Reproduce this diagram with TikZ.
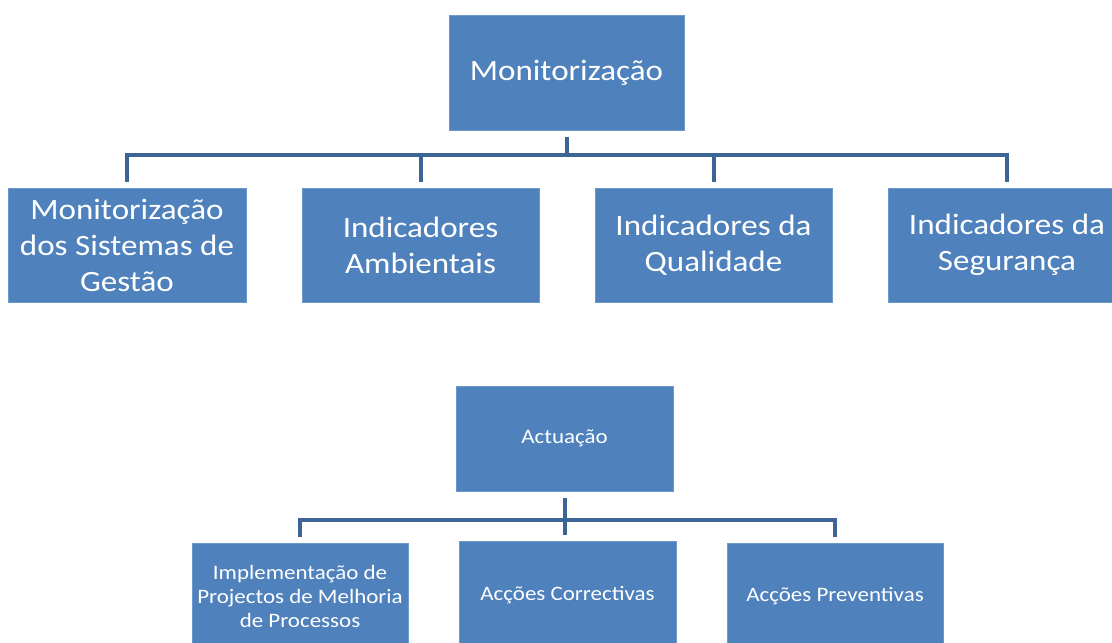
\documentclass[tikz,border=0pt]{standalone}
\usepackage{fontspec}
\setmainfont[FakeStretch=1.12]{Carlito}
\definecolor{boxblue}{HTML}{4F81BD}
\definecolor{boxedge}{HTML}{6E97CA}
\definecolor{linkblue}{HTML}{3C6595}
\tikzset{
  bigbox/.style={rectangle, fill=boxblue, draw=boxedge, line width=0.8pt, text=white, align=center,
    font=\fontsize{29.5}{36}\selectfont, inner sep=0pt},
  smallbox/.style={rectangle, fill=boxblue, draw=boxedge, line width=0.8pt, text=white, align=center,
    font=\fontsize{20.5}{24}\selectfont, inner sep=0pt},
  conn/.style={draw=linkblue, line width=4pt}
}
\begin{document}
\begin{tikzpicture}[x=1pt,y=1pt]
\clip (0,0) rectangle (1112,-643);
\useasboundingbox (0,0) rectangle (1112,-643);
\fill[white] (0,0) rectangle (1112,-643);
% top hierarchy
\node[bigbox, minimum width=235pt, minimum height=115pt] (m) at (566.5,-72.5) {Monitorização};
\node[bigbox, minimum width=238pt, minimum height=114pt] (b1) at (127,-245) {Monitorização\\dos Sistemas de\\Gestão};
\node[bigbox, minimum width=237pt, minimum height=114pt] (b2) at (420.5,-245) {Indicadores\\Ambientais};
\node[bigbox, minimum width=237pt, minimum height=114pt] (b3) at (713.5,-245) {Indicadores da\\Qualidade};
\node[bigbox, minimum width=238pt, minimum height=114pt] (b4) at (1007,-245) {Indicadores da\\Segurança};
\coordinate (bus1) at ([yshift=-25pt]m.south);
\draw[conn] ([yshift=-7pt]m.south) -- (bus1);
\draw[conn] ([yshift=6pt]b1.north) |- (bus1) -| ([yshift=6pt]b4.north);
\draw[conn] ([yshift=6pt]b2.north) -- (b2.north |- bus1);
\draw[conn] ([yshift=6pt]b3.north) -- (b3.north |- bus1);
% bottom hierarchy
\node[smallbox, minimum width=217pt, minimum height=105pt] (a) at (564.5,-438.5) {Actuação};
\node[smallbox, minimum width=216pt, minimum height=106pt] (c1) at (300,-596) {Implementação de\\Projectos de Melhoria\\de Processos};
\node[smallbox, minimum width=217pt, minimum height=108pt] (c2) at (567.5,-595) {Acções Correctivas};
\node[smallbox, minimum width=216pt, minimum height=106pt] (c3) at (835,-596) {Acções Preventivas};
\coordinate (bus2) at ([yshift=-29pt]a.south);
\draw[conn] ([yshift=-7pt]a.south) -- ([yshift=6pt]a.south |- c2.north);
\draw[conn] ([yshift=6pt]c1.north) |- (bus2) -| ([yshift=6pt]c3.north);
\end{tikzpicture}
\end{document}
